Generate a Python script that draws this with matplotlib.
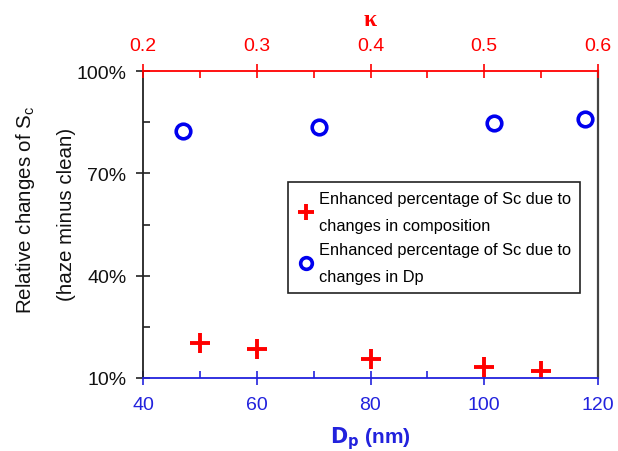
import matplotlib
matplotlib.use("Agg")
import matplotlib.pyplot as plt
from matplotlib.ticker import FixedLocator, FuncFormatter

plt.rcParams['font.family'] = ['Liberation Sans', 'DejaVu Sans']

# Data
dp_comp = [50, 60, 80, 100, 110]
sc_comp = [20.3, 18.5, 15.5, 13.2, 12.1]
kappa_dp = [0.2355, 0.3546, 0.509, 0.589]
sc_dp = [82.5, 83.6, 84.8, 85.9]

dp_ticks = [40, 60, 80, 100, 120]
kappa_ticks = [0.2, 0.3, 0.4, 0.5, 0.6]
y_ticks = [10, 40, 70, 100]

label_comp = "Enhanced percentage of Sc due to\nchanges in composition"
label_dp = "Enhanced percentage of Sc due to\nchanges in Dp"

RED = '#ff0000'
BLUE = '#0000ee'
AXBLUE = '#2222dd'

fig = plt.figure(figsize=(6.18, 4.52), dpi=100)
ax = fig.add_axes([143/618, 1-379/452, (598-143)/618, (379-72)/452])
ax2 = ax.twiny()

h1, = ax.plot(dp_comp, sc_comp, linestyle='none', marker='+', color=RED,
              markersize=14, markeredgewidth=2.8, label=label_comp)
h2, = ax2.plot(kappa_dp, sc_dp, linestyle='none', marker='o', markerfacecolor='none',
               markeredgecolor=BLUE, markersize=10.5, markeredgewidth=2.6, label=label_dp)

ax.set_xlim(40, 120)
ax.set_ylim(10, 100)
ax2.set_xlim(0.2, 0.6)

ax.xaxis.set_major_locator(FixedLocator(dp_ticks))
ax.xaxis.set_minor_locator(FixedLocator([50, 70, 90, 110]))
ax.yaxis.set_major_locator(FixedLocator(y_ticks))
ax.yaxis.set_minor_locator(FixedLocator([25, 55, 85]))
ax.yaxis.set_major_formatter(FuncFormatter(lambda v, p: f"{v:.0f}%"))
ax2.xaxis.set_major_locator(FixedLocator(kappa_ticks))
ax2.xaxis.set_minor_locator(FixedLocator([0.25, 0.35, 0.45, 0.55]))
ax2.xaxis.set_major_formatter(FuncFormatter(lambda v, p: f"{v:.1f}"))

for a in (ax, ax2):
    for s in a.spines.values():
        s.set_visible(False)
ax.spines['left'].set_visible(True)
ax.spines['left'].set_color('#222222')
ax.spines['left'].set_linewidth(1.3)
ax.spines['bottom'].set_visible(True)
ax.spines['bottom'].set_color(AXBLUE)
ax.spines['bottom'].set_linewidth(1.3)
ax.spines['right'].set_visible(True)
ax.spines['right'].set_color('#444444')
ax.spines['right'].set_linewidth(1.6)
ax2.spines['top'].set_visible(True)
ax2.spines['top'].set_color(RED)
ax2.spines['top'].set_linewidth(1.3)

ax.tick_params(axis='x', which='major', direction='inout', length=10, width=1.2,
               colors=AXBLUE, labelsize=14, pad=8, top=False)
ax.tick_params(axis='x', which='minor', direction='in', length=5, width=1.2,
               colors=AXBLUE, top=False)
ax.tick_params(axis='y', which='major', direction='inout', length=10, width=1.2,
               colors='#222222', labelsize=14, pad=7, right=False)
ax.tick_params(axis='y', which='minor', direction='in', length=5, width=1.2,
               colors='#222222', right=False)
ax.tick_params(axis='y', labelcolor='#111111')
ax2.tick_params(axis='x', which='major', direction='inout', length=10, width=1.2,
                colors=RED, labelsize=14, pad=7)
ax2.tick_params(axis='x', which='minor', direction='in', length=5, width=1.2, colors=RED)

ax.set_xlabel(r"$\mathbf{D_p}$ (nm)", color=AXBLUE, fontsize=15, fontweight='bold', labelpad=8)
ax2.set_xlabel("κ", color=RED, fontsize=17, fontweight='bold',
               family=['Liberation Serif', 'DejaVu Serif'], labelpad=9)

fig.text(26/618, 1-209.5/452, r"Relative changes of S$_\mathregular{c}$", rotation=90,
         ha='center', va='center', fontsize=14.8, color='#111111')
fig.text(67/618, 1-214/452, "(haze minus clean)", rotation=90,
         ha='center', va='center', fontsize=14.8, color='#111111')

leg = ax.legend(handles=[h1, h2], loc='upper left',
                bbox_to_anchor=(288/618, 1-183/452), bbox_transform=fig.transFigure,
                borderaxespad=0, fancybox=False, framealpha=1, edgecolor='#222222',
                fontsize=11.8, handlelength=1.1, handletextpad=0.25, borderpad=0.55,
                labelspacing=0.55, markerscale=0.8)
leg.get_frame().set_linewidth(1.2)
for t in leg.get_texts():
    t.set_linespacing(2.0)

fig.savefig('out.png', dpi=100)
